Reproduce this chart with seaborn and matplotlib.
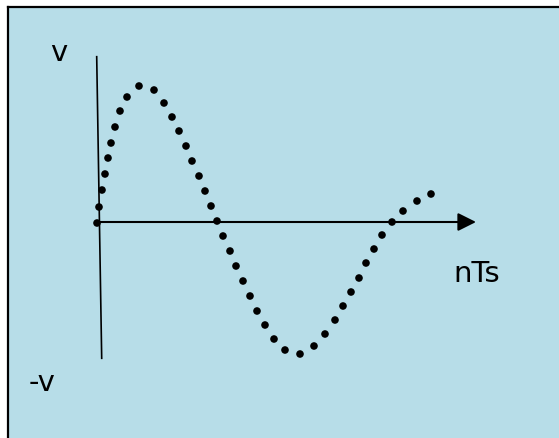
import numpy as np
import pandas as pd
import matplotlib
matplotlib.use("Agg")
import matplotlib.pyplot as plt
from matplotlib.patches import Rectangle
import seaborn as sns

# sampled signal (time in nTs units, amplitude in v units)
t = [0.00, 0.02, 0.05, 0.08, 0.11, 0.14, 0.18, 0.23, 0.30, 0.42,
     0.57, 0.67, 0.75, 0.82, 0.89, 0.95, 1.02, 1.08, 1.14, 1.20,
     1.26, 1.33, 1.39, 1.46, 1.53, 1.60, 1.68, 1.77, 1.88, 2.03,
     2.17, 2.28, 2.38, 2.46, 2.54, 2.62, 2.69, 2.77, 2.85, 2.95,
     3.06, 3.20, 3.34]
v = [-0.01, 0.15, 0.32, 0.48, 0.64, 0.79, 0.95, 1.11, 1.25, 1.36,
     1.32, 1.19, 1.05, 0.91, 0.76, 0.61, 0.46, 0.31, 0.16, 0.01,
     -0.14, -0.29, -0.44, -0.59, -0.74, -0.89, -1.03, -1.17, -1.28, -1.32,
     -1.24, -1.12, -0.98, -0.84, -0.70, -0.56, -0.41, -0.27, -0.13, 0.00,
     0.11, 0.21, 0.28]
df = pd.DataFrame({"t": t, "v": v})

x_label = "nTs"
y_top = "v"
y_bottom = "-v"

bg = "#b7dde8"

fig = plt.figure(figsize=(5.59, 4.38), dpi=100)
fig.patch.set_facecolor("white")

ax = fig.add_axes([0, 0, 1, 1])
ax.set_facecolor("none")
ax.set_xlim(-0.97, 4.62)
ax.set_ylim(-2.16, 2.22)
ax.axis("off")

# blue panel with black top/left edge
top = (438 - 6.5) / 438
left = 8 / 559
ax.add_patch(Rectangle((left, 0), 1, top, transform=ax.transAxes,
                       facecolor=bg, edgecolor="none", zorder=0))
ax.plot([left, left], [0, top], transform=ax.transAxes, color="black",
        lw=1.6, zorder=1, solid_capstyle="projecting")
ax.plot([left, 1], [top, top], transform=ax.transAxes, color="black",
        lw=1.6, zorder=1, solid_capstyle="projecting")

# axes of the sketch
ax.plot([-0.003, 0.047], [1.653, -1.363], color="black", lw=1.2, zorder=2)
ax.annotate("", xy=(3.79, 0.0), xytext=(-0.02, 0.0),
            arrowprops=dict(arrowstyle="-|>,head_length=1.1,head_width=0.55",
                            mutation_scale=10, lw=1.5, color="black",
                            shrinkA=0, shrinkB=0), zorder=2)

sns.scatterplot(data=df, x="t", y="v", ax=ax, color="black", s=30,
                edgecolor="none", legend=False, zorder=3)

ax.text(-0.38, 1.61, y_top, fontsize=21, ha="center", va="baseline",
        family="DejaVu Sans")
ax.text(3.797, -0.597, x_label, fontsize=21, ha="center", va="baseline",
        family="DejaVu Sans")
ax.text(-0.545, -1.687, y_bottom, fontsize=21, ha="center", va="baseline",
        family="DejaVu Sans")

fig.savefig("out.png", dpi=100, facecolor=fig.get_facecolor())
